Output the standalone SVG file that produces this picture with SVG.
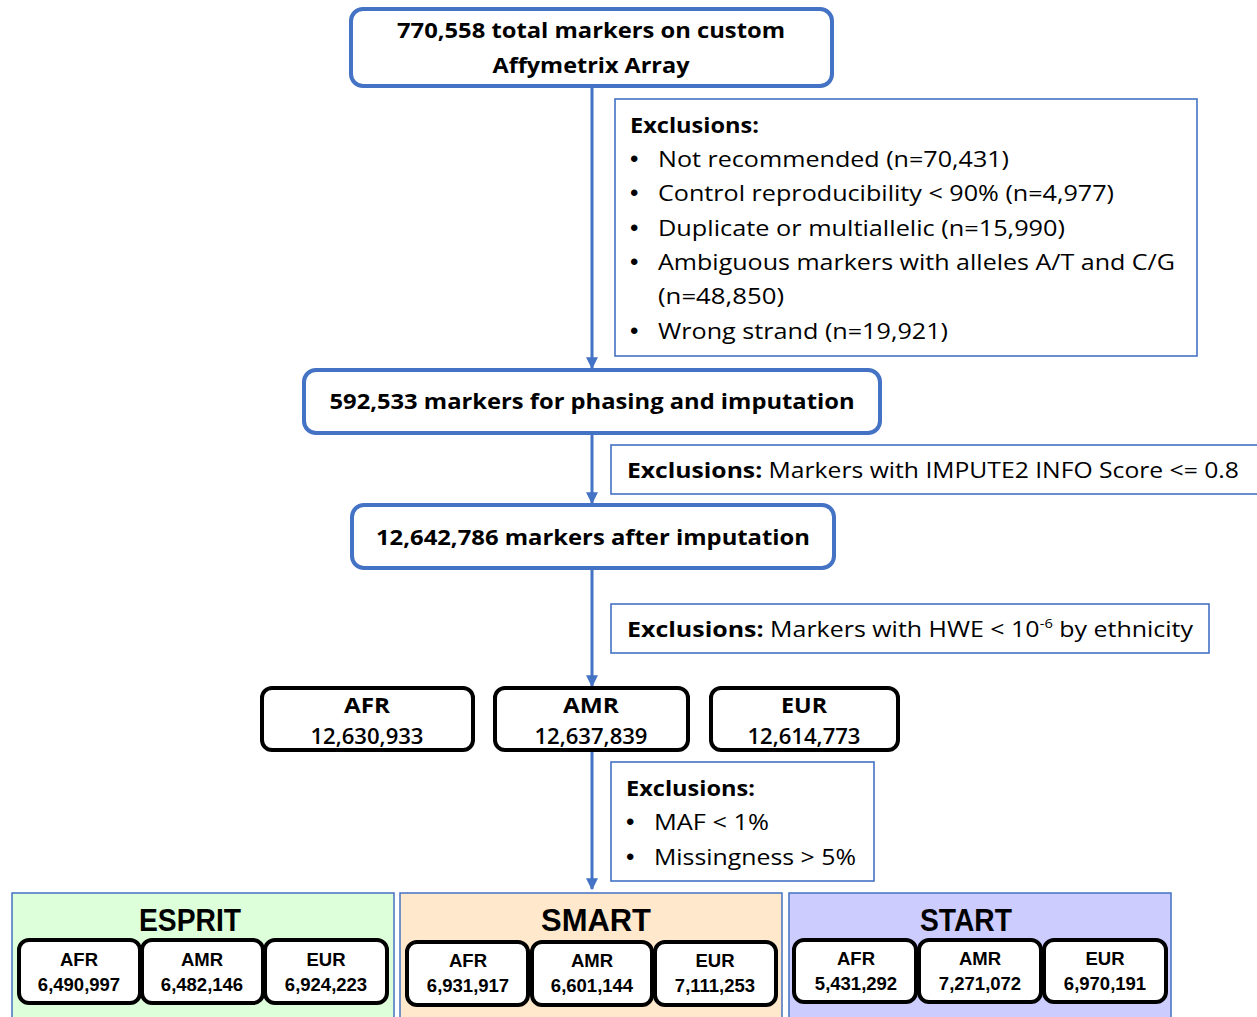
<svg xmlns="http://www.w3.org/2000/svg" width="1257" height="1017" viewBox="0 0 1257 1017">
<defs>
<style>
.bbox{fill:#fff;stroke:#4472C4;stroke-width:4}
.ebox{fill:#fff;stroke:#4472C4;stroke-width:1.6}
.kbox{fill:#fff;stroke:#000;stroke-width:4}
.t{font-family:"Open Sans","DejaVu Sans",sans-serif;fill:#000}
.b{font-weight:bold}
.bul{font-family:"Liberation Sans",Arial,sans-serif;font-size:24px;fill:#000}
.s{font-family:"Liberation Sans",Arial,sans-serif;font-weight:bold;font-size:18.5px;fill:#000}
.ttl{font-family:"Liberation Sans",Arial,sans-serif;font-weight:bold;font-size:32px;fill:#000}
.conn{stroke:#4472C4;stroke-width:3;fill:none}
</style>
<marker id="arr" viewBox="0 0 10 10" refX="9" refY="5" markerWidth="4" markerHeight="4" orient="auto" markerUnits="strokeWidth">
<path d="M0,0 L10,5 L0,10 z" fill="#4472C4"/>
</marker>
</defs>
<rect width="1257" height="1017" fill="#fff"/>

<g id="connectors">
<line class="conn" x1="592" y1="86" x2="592" y2="368" marker-end="url(#arr)"/>
<line class="conn" x1="592" y1="433" x2="592" y2="503" marker-end="url(#arr)"/>
<line class="conn" x1="592" y1="568" x2="592" y2="686" marker-end="url(#arr)"/>
<line class="conn" x1="592" y1="750" x2="592" y2="889" marker-end="url(#arr)"/>
</g>

<g id="n-total">
<rect class="bbox" x="351" y="9" width="481" height="77" rx="12"/>
<text class="t b" font-size="22" x="591" y="38" text-anchor="middle" textLength="388" lengthAdjust="spacingAndGlyphs">770,558 total markers on custom</text>
<text class="t b" font-size="22" x="591" y="73" text-anchor="middle" textLength="197" lengthAdjust="spacingAndGlyphs">Affymetrix Array</text>
</g>

<g id="ex1">
<rect class="ebox" x="615" y="99" width="582" height="257"/>
<text class="t b" font-size="22" x="630" y="133" textLength="129" lengthAdjust="spacingAndGlyphs">Exclusions:</text>
<g class="t" font-size="22">
<text class="bul" x="630" y="167">•</text>
<text x="658" y="167" textLength="351" lengthAdjust="spacingAndGlyphs">Not recommended (n=70,431)</text>
<text class="bul" x="630" y="201">•</text>
<text x="658" y="201" textLength="456" lengthAdjust="spacingAndGlyphs">Control reproducibility &lt; 90% (n=4,977)</text>
<text class="bul" x="630" y="236">•</text>
<text x="658" y="236" textLength="407" lengthAdjust="spacingAndGlyphs">Duplicate or multiallelic (n=15,990)</text>
<text class="bul" x="630" y="270">•</text>
<text x="658" y="270" textLength="517" lengthAdjust="spacingAndGlyphs">Ambiguous markers with alleles A/T and C/G</text>
<text x="658" y="304" textLength="126" lengthAdjust="spacingAndGlyphs">(n=48,850)</text>
<text class="bul" x="630" y="339">•</text>
<text x="658" y="339" textLength="290" lengthAdjust="spacingAndGlyphs">Wrong strand (n=19,921)</text>
</g>
</g>

<g id="n-phasing">
<rect class="bbox" x="304" y="370" width="576" height="63" rx="12"/>
<text class="t b" font-size="22" x="592" y="409" text-anchor="middle" textLength="525" lengthAdjust="spacingAndGlyphs">592,533 markers for phasing and imputation</text>
</g>

<g id="ex2">
<rect class="ebox" x="611" y="445" width="652" height="49"/>
<text class="t" font-size="22" x="627" y="478" textLength="612" lengthAdjust="spacingAndGlyphs"><tspan font-weight="bold">Exclusions:</tspan> Markers with IMPUTE2 INFO Score &lt;= 0.8</text>
</g>

<g id="n-imputed">
<rect class="bbox" x="352" y="505" width="482" height="63" rx="12"/>
<text class="t b" font-size="22" x="593" y="545" text-anchor="middle" textLength="434" lengthAdjust="spacingAndGlyphs">12,642,786 markers after imputation</text>
</g>

<g id="ex3">
<rect class="ebox" x="611" y="604" width="598" height="49"/>
<text class="t" font-size="22" x="627" y="637" textLength="566" lengthAdjust="spacingAndGlyphs"><tspan font-weight="bold">Exclusions:</tspan> Markers with HWE &lt; 10<tspan font-size="13" dy="-9">-6</tspan><tspan dy="9"> by ethnicity</tspan></text>
</g>

<g id="n-afr">
<rect class="kbox" x="262" y="688" width="211" height="62" rx="10"/>
<text class="t b" font-size="21" x="367" y="713" text-anchor="middle" textLength="46" lengthAdjust="spacingAndGlyphs">AFR</text>
<text class="t" font-size="21" font-weight="600" x="367" y="744" text-anchor="middle" textLength="113" lengthAdjust="spacingAndGlyphs">12,630,933</text>
</g>
<g id="n-amr">
<rect class="kbox" x="495" y="688" width="193" height="62" rx="10"/>
<text class="t b" font-size="21" x="591" y="713" text-anchor="middle" textLength="56" lengthAdjust="spacingAndGlyphs">AMR</text>
<text class="t" font-size="21" font-weight="600" x="591" y="744" text-anchor="middle" textLength="113" lengthAdjust="spacingAndGlyphs">12,637,839</text>
</g>
<g id="n-eur">
<rect class="kbox" x="711" y="688" width="187" height="62" rx="10"/>
<text class="t b" font-size="21" x="804" y="713" text-anchor="middle" textLength="46" lengthAdjust="spacingAndGlyphs">EUR</text>
<text class="t" font-size="21" font-weight="600" x="804" y="744" text-anchor="middle" textLength="113" lengthAdjust="spacingAndGlyphs">12,614,773</text>
</g>

<g id="ex4">
<rect class="ebox" x="611" y="762" width="263" height="119"/>
<text class="t b" font-size="22" x="626" y="796" textLength="129" lengthAdjust="spacingAndGlyphs">Exclusions:</text>
<text class="bul" x="626" y="830">•</text>
<text class="t" font-size="22" x="654" y="830" textLength="115" lengthAdjust="spacingAndGlyphs">MAF &lt; 1%</text>
<text class="bul" x="626" y="865">•</text>
<text class="t" font-size="22" x="654" y="865" textLength="202" lengthAdjust="spacingAndGlyphs">Missingness &gt; 5%</text>
</g>

<g id="p-esprit">
<rect x="12" y="893" width="382" height="130" fill="#DDFFD9" stroke="#4472C4" stroke-width="1.5"/>
<text class="ttl" x="190" y="931" text-anchor="middle" textLength="102" lengthAdjust="spacingAndGlyphs">ESPRIT</text>
<rect class="kbox" x="19" y="940" width="121" height="63" rx="10"/>
<text class="s" x="79" y="966" text-anchor="middle">AFR</text>
<text class="s" x="79" y="991" text-anchor="middle">6,490,997</text>
<rect class="kbox" x="142" y="940" width="121" height="63" rx="10"/>
<text class="s" x="202" y="966" text-anchor="middle">AMR</text>
<text class="s" x="202" y="991" text-anchor="middle">6,482,146</text>
<rect class="kbox" x="265" y="940" width="122" height="63" rx="10"/>
<text class="s" x="326" y="966" text-anchor="middle">EUR</text>
<text class="s" x="326" y="991" text-anchor="middle">6,924,223</text>
</g>

<g id="p-smart">
<rect x="400" y="893" width="382" height="130" fill="#FFE8CC" stroke="#4472C4" stroke-width="1.5"/>
<text class="ttl" x="596" y="931" text-anchor="middle" textLength="110" lengthAdjust="spacingAndGlyphs">SMART</text>
<rect class="kbox" x="407" y="942" width="121" height="63" rx="10"/>
<text class="s" x="468" y="967" text-anchor="middle">AFR</text>
<text class="s" x="468" y="992" text-anchor="middle">6,931,917</text>
<rect class="kbox" x="532" y="942" width="120" height="63" rx="10"/>
<text class="s" x="592" y="967" text-anchor="middle">AMR</text>
<text class="s" x="592" y="992" text-anchor="middle">6,601,144</text>
<rect class="kbox" x="655" y="942" width="121" height="63" rx="10"/>
<text class="s" x="715" y="967" text-anchor="middle">EUR</text>
<text class="s" x="715" y="992" text-anchor="middle">7,111,253</text>
</g>

<g id="p-start">
<rect x="789" y="893" width="382" height="130" fill="#CCCCFF" stroke="#4472C4" stroke-width="1.5"/>
<text class="ttl" x="966" y="931" text-anchor="middle" textLength="92" lengthAdjust="spacingAndGlyphs">START</text>
<rect class="kbox" x="794" y="940" width="122" height="62" rx="10"/>
<text class="s" x="856" y="965" text-anchor="middle">AFR</text>
<text class="s" x="856" y="990" text-anchor="middle">5,431,292</text>
<rect class="kbox" x="919" y="940" width="122" height="62" rx="10"/>
<text class="s" x="980" y="965" text-anchor="middle">AMR</text>
<text class="s" x="980" y="990" text-anchor="middle">7,271,072</text>
<rect class="kbox" x="1044" y="940" width="122" height="62" rx="10"/>
<text class="s" x="1105" y="965" text-anchor="middle">EUR</text>
<text class="s" x="1105" y="990" text-anchor="middle">6,970,191</text>
</g>
</svg>
